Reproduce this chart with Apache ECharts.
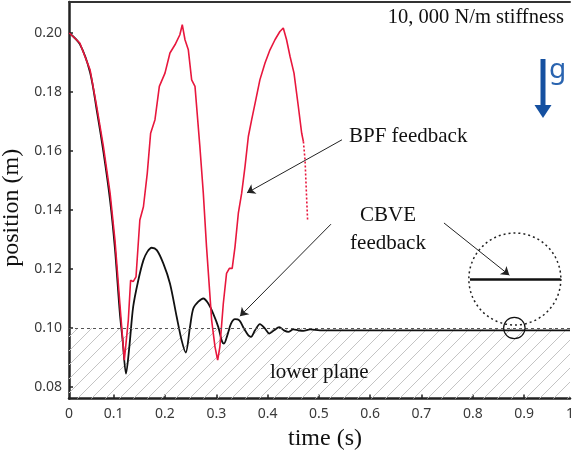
<!DOCTYPE html>
<html>
<head>
<meta charset="utf-8">
<script src="https://cdn.jsdelivr.net/npm/echarts@6/dist/echarts.min.js"></script>
<style>
  html, body { margin: 0; padding: 0; background: #fff; }
  #chart { width: 572px; height: 452px; }
</style>
</head>
<body>
<div id="chart"></div>
<script>
// axis ranges / ticks
var xMin = 0.0129, xMax = 0.9895
var yMin = 0.0761, yMax = 0.2105
var xTicks = [0.1, 0.2, 0.3, 0.4, 0.5, 0.6, 0.7, 0.8, 0.9]
var yTicks = [0.08, 0.10, 0.12, 0.14, 0.16, 0.18, 0.20]
var planeLevel = 0.10

// BPF feedback (red)
var bpfTime = [0.0135, 0.034, 0.054, 0.067, 0.080, 0.093, 0.1025, 0.112, 0.1207, 0.1285, 0.133, 0.138, 0.1435, 0.151, 0.158, 0.1655, 0.172, 0.1805, 0.189, 0.200, 0.2097, 0.2195, 0.229, 0.2337, 0.2390, 0.2455, 0.252, 0.2585, 0.268, 0.2747, 0.281, 0.291, 0.2975, 0.3027, 0.307, 0.3137, 0.320, 0.3255, 0.331, 0.3365, 0.343, 0.3495, 0.356, 0.3625, 0.369, 0.377, 0.385, 0.395, 0.4047, 0.4144, 0.424, 0.4306, 0.437, 0.4437, 0.4515, 0.46, 0.4665, 0.4698]
var bpfPos = [0.200, 0.1966, 0.1875, 0.175, 0.1615, 0.1457, 0.1298, 0.1084, 0.0891, 0.1026, 0.1162, 0.1157, 0.1173, 0.1366, 0.1411, 0.1525, 0.166, 0.1706, 0.1819, 0.1864, 0.1932, 0.196, 0.1994, 0.2028, 0.1977, 0.1943, 0.1841, 0.1819, 0.1615, 0.1457, 0.1275, 0.1026, 0.0936, 0.0891, 0.0936, 0.1083, 0.1185, 0.1202, 0.1202, 0.1275, 0.1389, 0.1457, 0.1547, 0.1649, 0.1706, 0.1773, 0.1841, 0.1898, 0.1943, 0.1977, 0.2005, 0.2017, 0.1977, 0.1921, 0.1864, 0.175, 0.166, 0.1632]
// dotted tail of the red curve
var bpfTailTime = [0.4698, 0.473, 0.476, 0.478]
var bpfTailPos = [0.1632, 0.157, 0.1445, 0.1366]

// CBVE feedback (black)
var cbveTime = [0.0135, 0.034, 0.054, 0.067, 0.080, 0.093, 0.1025, 0.112, 0.1175, 0.124, 0.1305, 0.138, 0.148, 0.158, 0.1655, 0.174, 0.184, 0.1967, 0.2097, 0.2228, 0.2325, 0.2404, 0.2487, 0.2552, 0.265, 0.2747, 0.2844, 0.294, 0.304, 0.3105, 0.315, 0.3215, 0.3287, 0.3365, 0.345, 0.354, 0.3625, 0.3677, 0.3755, 0.385, 0.395, 0.4033, 0.4125, 0.4228, 0.432, 0.4404, 0.45, 0.46, 0.4698, 0.483, 0.502, 0.6, 0.7, 0.8, 0.9, 0.9895]
var cbvePos = [0.200, 0.1962, 0.1866, 0.1738, 0.1597, 0.1432, 0.1268, 0.1050, 0.0958, 0.0845, 0.0936, 0.1072, 0.1162, 0.123, 0.1258, 0.1272, 0.1264, 0.1219, 0.1151, 0.1038, 0.0958, 0.0917, 0.1003, 0.1066, 0.1089, 0.11, 0.1083, 0.1049, 0.1003, 0.0958, 0.0947, 0.0975, 0.1015, 0.103, 0.1026, 0.0998, 0.0975, 0.097, 0.0992, 0.1013, 0.0998, 0.0981, 0.0992, 0.1003, 0.0992, 0.0987, 0.0995, 0.0992, 0.099, 0.0995, 0.0992, 0.0992, 0.0992, 0.0992, 0.0992, 0.0992]

function pairs(xs, ys) {
    return xs.map(function (x, i) { return [x, ys[i]] })
}

// hatch pattern for the lower plane
var hatch = document.createElement('canvas')
hatch.width = 14
hatch.height = 14
var hc = hatch.getContext('2d')
hc.strokeStyle = '#c4c4c4'
hc.lineWidth = 1
hc.beginPath()
hc.moveTo(0, 14); hc.lineTo(14, 0)
hc.moveTo(-2, 2); hc.lineTo(2, -2)
hc.moveTo(12, 16); hc.lineTo(16, 12)
hc.stroke()

var serif = 'Liberation Serif'
var chart = echarts.init(document.getElementById('chart'))

chart.setOption({
    animation: false,
    grid: { left: 69, right: 2, top: 2, bottom: 53.5, outerBoundsMode: 'none', containLabel: false },
    xAxis: [
        {
            type: 'value', min: xMin, max: xMax,
            name: 'time (s)', nameLocation: 'middle', nameGap: 21,
            nameTextStyle: { fontFamily: serif, fontSize: 24, color: '#111', padding: [0, 0, 0, 11] },
            axisLine: { lineStyle: { color: '#222', width: 2.5 } },
            axisTick: { inside: true, length: 4, customValues: xTicks, lineStyle: { color: '#222', width: 1.5 } },
            axisLabel: {
                customValues: [xMin].concat(xTicks).concat([xMax]),
                margin: 9, fontFamily: 'Noto Sans', fontSize: 14, color: '#3a3a3a',
                formatter: function (v) {
                    if (v < 0.05) return '0'
                    if (v > 0.95) return '1'
                    return v.toFixed(1)
                }
            },
            splitLine: { show: false }
        },
        {
            type: 'value', min: xMin, max: xMax, position: 'top',
            axisLine: { show: true, lineStyle: { color: '#333', width: 2 } },
            axisTick: { show: false }, axisLabel: { show: false }, splitLine: { show: false }
        }
    ],
    yAxis: {
        type: 'value', min: yMin, max: yMax,
        name: 'position (m)', nameLocation: 'middle', nameGap: 40,
        nameTextStyle: { fontFamily: serif, fontSize: 24, color: '#111', padding: [0, 15, 0, 0] },
        axisLine: { show: true, lineStyle: { color: '#222', width: 2.5 } },
        axisTick: { inside: true, length: 4, customValues: yTicks, lineStyle: { color: '#222', width: 1.5 } },
        axisLabel: {
            customValues: yTicks, margin: 7, fontFamily: 'Noto Sans', fontSize: 14, color: '#3a3a3a',
            formatter: function (v) { return v.toFixed(2) }
        },
        splitLine: { show: false }
    },
    series: [
        {
            name: 'CBVE feedback', type: 'line', showSymbol: false, smooth: 0.3,
            data: pairs(cbveTime, cbvePos),
            lineStyle: { color: '#111', width: 1.8 },
            z: 3,
            markArea: {
                silent: true,
                itemStyle: { color: { image: hatch, repeat: 'repeat' } },
                data: [[{ yAxis: yMin }, { yAxis: planeLevel }]]
            },
            markLine: {
                silent: true, symbol: 'none', label: { show: false },
                data: [
                    { yAxis: planeLevel, lineStyle: { color: '#555', type: [3, 3], width: 1 } },
                    // line across the magnified circle
                    [{ coord: [0.7945, 0.1166], lineStyle: { color: '#111', type: 'solid', width: 2.5 } }, { coord: [0.9713, 0.1166] }],
                    // annotation arrows
                    [{ coord: [0.545, 0.1638], symbol: 'none', lineStyle: { color: '#222', type: 'solid', width: 1 } }, { coord: [0.3598, 0.1458], symbol: 'arrow', symbolSize: 8 }],
                    [{ coord: [0.5236, 0.1352], symbol: 'none', lineStyle: { color: '#222', type: 'solid', width: 1 } }, { coord: [0.3462, 0.104], symbol: 'arrow', symbolSize: 8 }],
                    [{ coord: [0.7438, 0.1356], symbol: 'none', lineStyle: { color: '#222', type: 'solid', width: 1 } }, { coord: [0.8713, 0.1179], symbol: 'arrow', symbolSize: 8 }]
                ]
            }
        },
        {
            name: 'BPF feedback', type: 'line', showSymbol: false,
            data: pairs(bpfTime, bpfPos),
            lineStyle: { color: '#e8173d', width: 1.6 },
            z: 4
        },
        {
            name: 'BPF tail', type: 'line', showSymbol: false,
            data: pairs(bpfTailTime, bpfTailPos),
            lineStyle: { color: '#e8173d', width: 1.6, type: [2, 2] },
            z: 4
        }
    ]
})

var big = chart.convertToPixel({ xAxisIndex: 0, yAxisIndex: 0 }, [0.882, 0.1166])
var small = chart.convertToPixel({ xAxisIndex: 0, yAxisIndex: 0 }, [0.881, planeLevel])

chart.setOption({
    graphic: [
        { type: 'circle', shape: { cx: big[0], cy: big[1], r: 46 }, style: { fill: 'none', stroke: '#222', lineWidth: 1.5, lineDash: [2, 3] }, z: 10 },
        { type: 'circle', shape: { cx: small[0], cy: small[1], r: 10.7 }, style: { fill: 'none', stroke: '#111', lineWidth: 1.2 }, z: 10 },
        { type: 'text', style: { x: 564, y: 18, text: '10, 000 N/m stiffness', font: '20.5px "Liberation Serif"', fill: '#111', textAlign: 'right', textVerticalAlign: 'middle' }, z: 10 },
        { type: 'text', style: { x: 349, y: 136, text: 'BPF feedback', font: '21px "Liberation Serif"', fill: '#111', textAlign: 'left', textVerticalAlign: 'middle' }, z: 10 },
        { type: 'text', style: { x: 388, y: 215, text: 'CBVE', font: '21px "Liberation Serif"', fill: '#111', textAlign: 'center', textVerticalAlign: 'middle' }, z: 10 },
        { type: 'text', style: { x: 388, y: 243, text: 'feedback', font: '21px "Liberation Serif"', fill: '#111', textAlign: 'center', textVerticalAlign: 'middle' }, z: 10 },
        { type: 'text', style: { x: 270, y: 372, text: 'lower plane', font: '21px "Liberation Serif"', fill: '#111', textAlign: 'left', textVerticalAlign: 'middle' }, z: 10 },
        // gravity arrow
        { type: 'rect', shape: { x: 540.5, y: 59, width: 5, height: 48 }, style: { fill: '#1550a0' }, z: 10 },
        { type: 'polygon', shape: { points: [[534.5, 105], [551.5, 105], [543, 118]] }, style: { fill: '#1550a0' }, z: 10 },
        { type: 'text', style: { x: 549, y: 70, text: 'g', font: '28px "Noto Sans"', fill: '#2a64b0', textAlign: 'left', textVerticalAlign: 'middle' }, z: 10 }
    ]
})
</script>
</body>
</html>
